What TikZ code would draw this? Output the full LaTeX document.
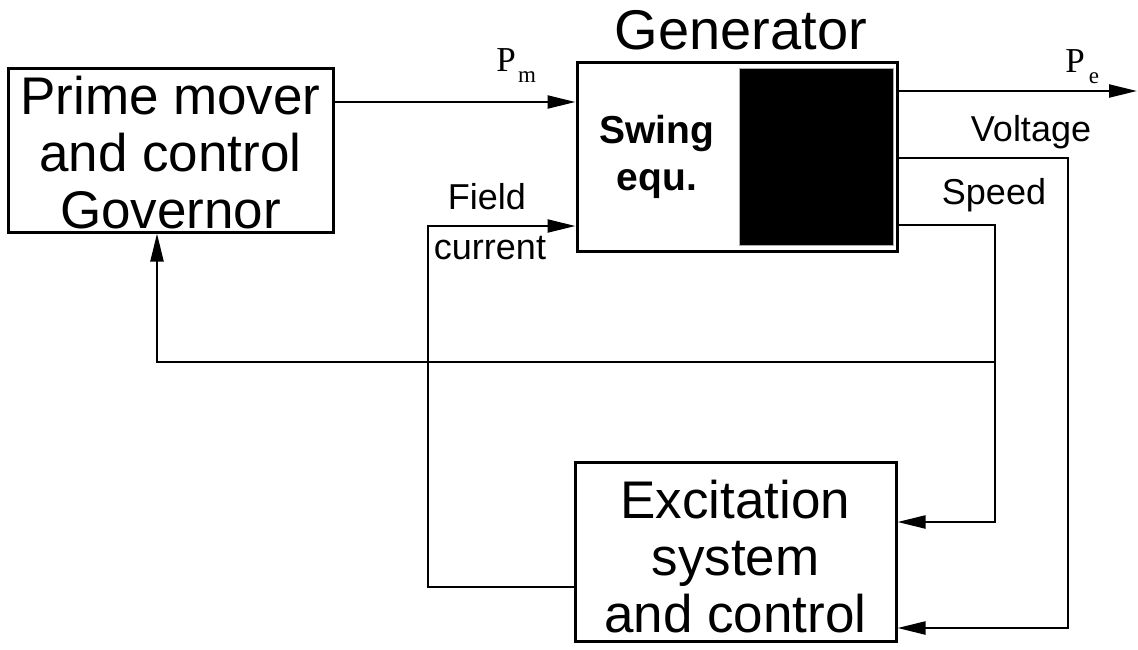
\documentclass[tikz,border=0pt]{standalone}
\usepackage{fontspec}
\setmainfont{Liberation Sans}
\newfontfamily\serifP{Liberation Serif}
\usetikzlibrary{arrows.meta}
\begin{document}
\begin{tikzpicture}[x=1pt,y=-1pt,
  blk/.style={draw,line width=3pt,rectangle,inner sep=0pt,align=center},
  big/.style={inner sep=0pt,align=center,font=\fontsize{53}{57}\selectfont},
  lbl/.style={inner sep=0pt,font=\fontsize{36}{38}\selectfont},
  plbl/.style={inner sep=0pt,font=\serifP\fontsize{35}{35}\selectfont},
  sub/.style={inner sep=0pt,font=\serifP\fontsize{23}{23}\selectfont},
  conn/.style={line width=2.2pt},
  arr/.style={conn,-{Triangle[length=28pt,width=13pt]}}]
\useasboundingbox (0,0) rectangle (1138,649);
% blocks
\node[blk,minimum width=325pt,minimum height=164pt] (pm) at (170.5,150) {};
\node[big] (pmtext) at (170.5,153) {Prime mover\\and control\\Governor};
\node[blk,minimum width=320pt,minimum height=189pt] (gen) at (737,156.5) {};
\fill[black,draw=gray!65,line width=1.5pt] (739.5,68.5) rectangle (893.5,245.5);
\node[inner sep=0pt,align=center,font=\bfseries\fontsize{39}{47}\selectfont] (swing) at (657,157) {Swing\\equ.};
\node[blk,minimum width=321pt,minimum height=179pt] (exc) at (735.5,551.5) {};
\node[big] (exctext) at (735.5,557) {Excitation\\system\\and control};
\node[inner sep=0pt,font=\fontsize{56}{60}\selectfont] (gtitle) at (741,30) {Generator};
% helper coordinates
\coordinate (ypm) at (0,102);
\coordinate (ype) at (0,91);
\coordinate (yv) at (0,158);
\coordinate (ys) at (0,225);
\coordinate (pe) at (1137,91);
\coordinate (vx) at (1068,158);
\coordinate (vd) at (1068,628);
\coordinate (sx) at (995,225);
\coordinate (sd) at (995,522);
\coordinate (gj) at (995,362);
\coordinate (gl) at (157,362);
\coordinate (fl) at (428,587);
\coordinate (fu) at (428,226);
% connectors
\draw[arr] (pm.east |- ypm) -- (gen.west |- ypm);
\draw[arr] (gen.east |- ype) -- (pe);
\draw[arr] (gen.east |- yv) -- (vx) -- (vd) -- (exc.east |- vd);
\draw[arr] (gen.east |- ys) -- (sx) -- (sd) -- (exc.east |- sd);
\draw[arr] (gj) -- (gl) -- (pm.south -| gl);
\draw[arr] (exc.west |- fl) -- (fl) -- (fu) -- (gen.west |- fu);
% labels
\node[plbl,anchor=base] (pmP) at (506,71) {P};
\node[sub,anchor=base] (pmm) at (527,82) {m};
\node[plbl,anchor=base] (peP) at (1075,72) {P};
\node[sub,anchor=base] (pee) at (1094,83) {e};
\node[lbl] (vlbl) at (1031,132) {Voltage};
\node[lbl] (slbl) at (994,195) {Speed};
\node[lbl] (flbl) at (487,197) {Field};
\node[lbl] (clbl) at (490,248) {current};
\end{tikzpicture}
\end{document}
